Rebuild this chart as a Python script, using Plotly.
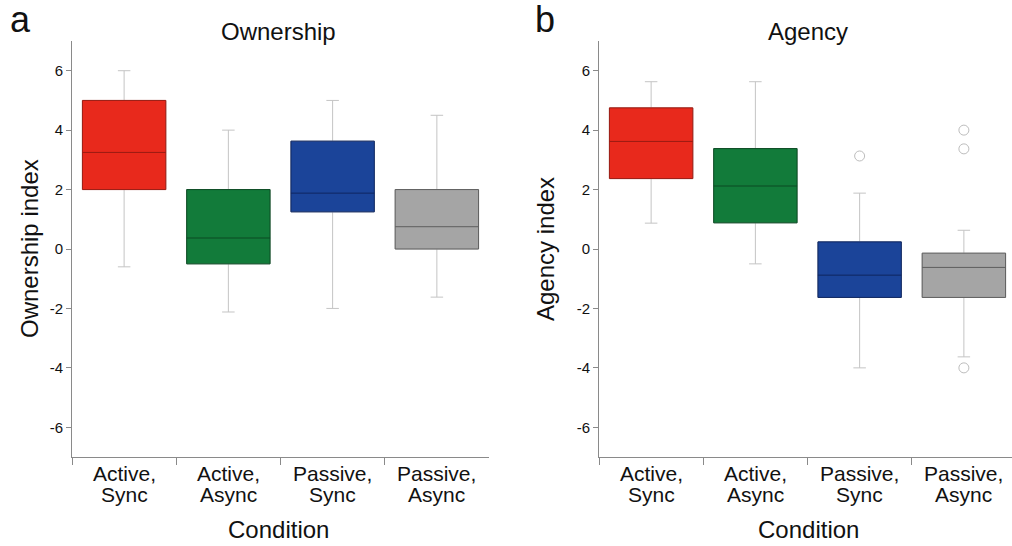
import plotly.graph_objects as go

categories = ["Active, Sync", "Active, Async", "Passive, Sync", "Passive, Async"]
label_line1 = ["Active,", "Active,", "Passive,", "Passive,"]
label_line2 = ["Sync", "Async", "Sync", "Async"]
fill_colors = ["#E8291C", "#127B3A", "#1B4499", "#A5A5A5"]
edge_colors = ["#9A1B12", "#0B4A23", "#0F2660", "#5E5E5E"]

# Ownership panel (a)
own_upper = [6.0, 4.0, 5.0, 4.5]
own_q3 = [5.0, 2.0, 3.63, 2.0]
own_median = [3.25, 0.37, 1.88, 0.75]
own_q1 = [2.0, -0.5, 1.25, 0.0]
own_lower = [-0.6, -2.12, -2.0, -1.62]
own_out_x = []
own_out_y = []

# Agency panel (b)
ag_upper = [5.63, 5.63, 1.88, 0.63]
ag_q3 = [4.75, 3.38, 0.24, -0.14]
ag_median = [3.62, 2.12, -0.88, -0.62]
ag_q1 = [2.37, 0.88, -1.63, -1.63]
ag_lower = [0.87, -0.5, -4.0, -3.63]
ag_out_x = [categories[2], categories[3], categories[3], categories[3]]
ag_out_y = [3.13, 4.0, 3.37, -4.0]

tick_vals = [-6, -4, -2, 0, 2, 4, 6]
tick_text = ["-6", "-4", "-2", "0", "2", "4", "6"]

W, H = 1012, 546
FONT = "Liberation Sans, Arial, Helvetica, sans-serif"

fig = go.Figure()


def add_panel(xa, ya, upper, q3, med, q1, lower, out_x, out_y):
    for i, c in enumerate(categories):
        # whiskers (light gray)
        fig.add_trace(go.Box(
            x=[c], q1=[q1[i]], median=[med[i]], q3=[q3[i]],
            lowerfence=[lower[i]], upperfence=[upper[i]],
            width=0.8, whiskerwidth=0.15,
            line=dict(color="#C4C4C4", width=1),
            fillcolor="rgba(0,0,0,0)", boxpoints=False,
            xaxis=xa, yaxis=ya, showlegend=False, hoverinfo="skip"))
        # colored box
        fig.add_trace(go.Box(
            x=[c], q1=[q1[i]], median=[med[i]], q3=[q3[i]],
            lowerfence=[q1[i]], upperfence=[q3[i]],
            width=0.8, whiskerwidth=0,
            line=dict(color=edge_colors[i], width=1),
            fillcolor=fill_colors[i], boxpoints=False,
            xaxis=xa, yaxis=ya, showlegend=False))
    if out_x:
        fig.add_trace(go.Scatter(
            x=out_x, y=out_y, mode="markers",
            marker=dict(symbol="circle-open", size=10, color="#BDBDBD", line=dict(width=1)),
            xaxis=xa, yaxis=ya, showlegend=False))


add_panel("x", "y", own_upper, own_q3, own_median, own_q1, own_lower, own_out_x, own_out_y)
add_panel("x2", "y2", ag_upper, ag_q3, ag_median, ag_q1, ag_lower, ag_out_x, ag_out_y)

ydom = [1 - 457 / H, 1 - 41 / H]
xdom1 = [72 / W, 489 / W]
xdom2 = [599 / W, 1.0]
# right panel is clipped by the page edge: keep the same bin width as the left panel
bin_px = (489 - 72) / 4
range2_end = -0.5 + (W - 599) / bin_px

xaxis_common = dict(
    type="category", categoryorder="array", categoryarray=categories,
    tickson="boundaries", ticks="outside", ticklen=7,
    tickcolor="#8A8A8A", showline=True, linecolor="#8A8A8A", linewidth=1,
    showgrid=False, zeroline=False, automargin=False, showticklabels=False,
)
yaxis_common = dict(
    range=[-7, 7], tickvals=tick_vals, ticktext=tick_text, ticks="outside",
    ticklen=5, tickcolor="#8A8A8A", showline=True, linecolor="#8A8A8A",
    linewidth=1, showgrid=False, zeroline=False, automargin=False,
    tickfont=dict(family=FONT, size=15, color="#111111"),
)

fig.update_layout(
    width=W, height=H,
    margin=dict(l=0, r=0, t=0, b=0),
    paper_bgcolor="white", plot_bgcolor="white",
    boxmode="overlay",
    xaxis=dict(domain=xdom1, anchor="y", range=[-0.5, 3.5], **xaxis_common),
    yaxis=dict(domain=ydom, anchor="x", **yaxis_common),
    xaxis2=dict(domain=xdom2, anchor="y2", range=[-0.5, range2_end], **xaxis_common),
    yaxis2=dict(domain=ydom, anchor="x2", **yaxis_common),
    font=dict(family=FONT, color="#111111"),
)

# category labels, two lines each, tight line spacing
for xref in ["x", "x2"]:
    for i, c in enumerate(categories):
        for txt, yc in [(label_line1[i], 473), (label_line2[i], 494)]:
            fig.add_annotation(text=txt, x=c, y=1 - yc / H, xref=xref, yref="paper",
                               xanchor="center", yanchor="middle", showarrow=False,
                               font=dict(family=FONT, size=21, color="#111111"))

ann = [
    dict(text="a", x=20 / W, y=1 - 20 / H, size=36),
    dict(text="b", x=545 / W, y=1 - 20 / H, size=36),
    dict(text="Ownership", x=278 / W, y=1 - 31 / H, size=24),
    dict(text="Agency", x=808 / W, y=1 - 31 / H, size=24),
    dict(text="Condition", x=278 / W, y=1 - 529 / H, size=24),
    dict(text="Condition", x=808 / W, y=1 - 529 / H, size=24),
]
for a in ann:
    fig.add_annotation(text=a["text"], x=a["x"], y=a["y"], xref="paper", yref="paper",
                       xanchor="center", yanchor="middle", showarrow=False,
                       font=dict(family=FONT, size=a["size"], color="#111111"))

for txt, xc in [("Ownership index", 30), ("Agency index", 546)]:
    fig.add_annotation(text=txt, x=xc / W, y=1 - 249 / H, xref="paper", yref="paper",
                       xanchor="center", yanchor="middle", showarrow=False, textangle=-90,
                       font=dict(family=FONT, size=24, color="#111111"))

fig.write_html("out.html", config={"displayModeBar": False},
               post_script="document.body.style.margin='0px';")
